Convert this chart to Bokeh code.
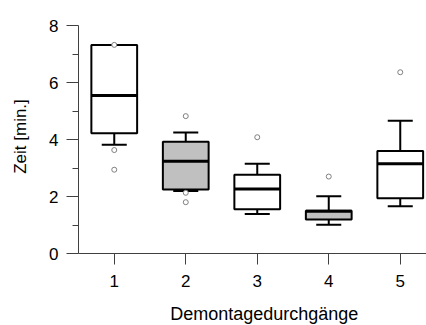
import math
from bokeh.plotting import figure
from bokeh.models import FixedTicker, Range1d, ColumnDataSource, Label
from bokeh.embed import file_html
from bokeh.resources import INLINE

# Data (boxplot statistics per run)
runs = [1, 2, 3, 4, 5]
q1 = [4.22, 2.25, 1.55, 1.19, 1.94]
median = [5.54, 3.24, 2.26, 1.48, 3.15]
q3 = [7.32, 3.92, 2.76, 1.50, 3.60]
whisker_low = [3.82, 2.19, 1.39, 1.01, 1.66]
whisker_high = [7.32, 4.25, 3.15, 2.01, 4.66]
outlier_run = [1, 1, 1, 2, 2, 2, 3, 4, 5]
outlier_value = [7.32, 3.63, 2.94, 4.82, 2.13, 1.80, 4.08, 2.70, 6.36]
x_ticks = [1, 2, 3, 4, 5]
y_ticks = [0, 2, 4, 6, 8]
y_minor = [1, 3, 5, 7]
x_title = "Demontagedurchgänge"
y_title = "Zeit [min.]"

box_fill = ["white", "#c0c0c0", "white", "#c0c0c0", "white"]
FONT = "Liberation Sans"
BOX_W = 0.64
CAP_W = 0.35

# layout: plot area whose x=0.5 / y=0 corner sits at pixel (78, 253)
W, H = 426, 325
ORIGIN_X, ORIGIN_Y, TOP_Y = 78, 253, 25
x_lo = 0.5
px_x = 71.5
px_y = (ORIGIN_Y - TOP_Y) / (y_ticks[-1] - y_ticks[0])
x_start = x_lo - ORIGIN_X / px_x
x_end = x_start + W / px_x
y_end = y_ticks[-1] + TOP_Y / px_y
y_start = y_end - H / px_y

p = figure(width=W, height=H, output_backend="svg", toolbar_location=None,
           x_range=Range1d(x_start, x_end), y_range=Range1d(y_start, y_end),
           min_border_left=0, min_border_right=0, min_border_top=0, min_border_bottom=0)
p.outline_line_color = None
p.grid.grid_line_color = None
p.background_fill_color = "white"
p.border_fill_color = "white"

src = ColumnDataSource(dict(x=runs, q1=q1, med=median, q3=q3, lo=whisker_low, hi=whisker_high,
                            fill=box_fill,
                            cl=[r - CAP_W / 2 for r in runs], cr=[r + CAP_W / 2 for r in runs],
                            ml=[r - BOX_W / 2 for r in runs], mr=[r + BOX_W / 2 for r in runs]))

# whiskers
p.segment(x0="x", y0="q3", x1="x", y1="hi", source=src, line_color="black", line_width=2)
p.segment(x0="x", y0="q1", x1="x", y1="lo", source=src, line_color="black", line_width=2)
p.segment(x0="cl", y0="hi", x1="cr", y1="hi", source=src, line_color="black", line_width=2)
p.segment(x0="cl", y0="lo", x1="cr", y1="lo", source=src, line_color="black", line_width=2)
# boxes
p.vbar(x="x", width=BOX_W, top="q3", bottom="q1", source=src, fill_color="fill",
       line_color="black", line_width=2)
# medians
p.segment(x0="ml", y0="med", x1="mr", y1="med", source=src, line_color="black", line_width=3)
# outliers
p.scatter(outlier_run, outlier_value, size=5, marker="circle", fill_color="white",
          line_color="#808080", line_width=1)

p.xaxis.ticker = FixedTicker(ticks=x_ticks)
p.yaxis.ticker = FixedTicker(ticks=y_ticks, minor_ticks=y_minor)
p.xaxis.minor_tick_line_color = None

for ax in (p.xaxis, p.yaxis):
    ax.axis_line_color = "#404040"
    ax.major_tick_line_color = "#404040"
    ax.major_tick_in = 0
    ax.minor_tick_in = 0
    ax.major_label_text_font = FONT
    ax.major_label_text_font_size = "17px"
    ax.major_label_text_color = "black"

# axes pinned to the data corner (x=0.5, y=0)
p.yaxis.fixed_location = x_lo
p.yaxis.bounds = (y_ticks[0], y_ticks[-1])
p.yaxis.major_tick_out = 12
p.yaxis.minor_tick_out = 6
p.yaxis.minor_tick_line_color = "#404040"
p.yaxis.major_label_standoff = 8

p.xaxis.fixed_location = y_ticks[0]
p.xaxis.bounds = (x_lo, x_end)
p.xaxis.major_tick_out = 11
p.xaxis.major_label_standoff = 10

# axis titles
p.add_layout(Label(x=x_ticks[len(x_ticks) // 2], y=y_ticks[0], x_offset=7, y_offset=-60,
                   text=x_title, text_font=FONT, text_font_size="18px",
                   text_color="black", text_align="center", text_baseline="middle"))
p.add_layout(Label(x=x_lo, y=(y_ticks[0] + y_ticks[-1]) / 2, x_offset=-58, y_offset=3,
                   angle=math.pi / 2, text=y_title, text_font=FONT, text_font_size="17px",
                   text_color="black", text_align="center", text_baseline="middle"))

open("out.html", "w").write(file_html(p, INLINE))
